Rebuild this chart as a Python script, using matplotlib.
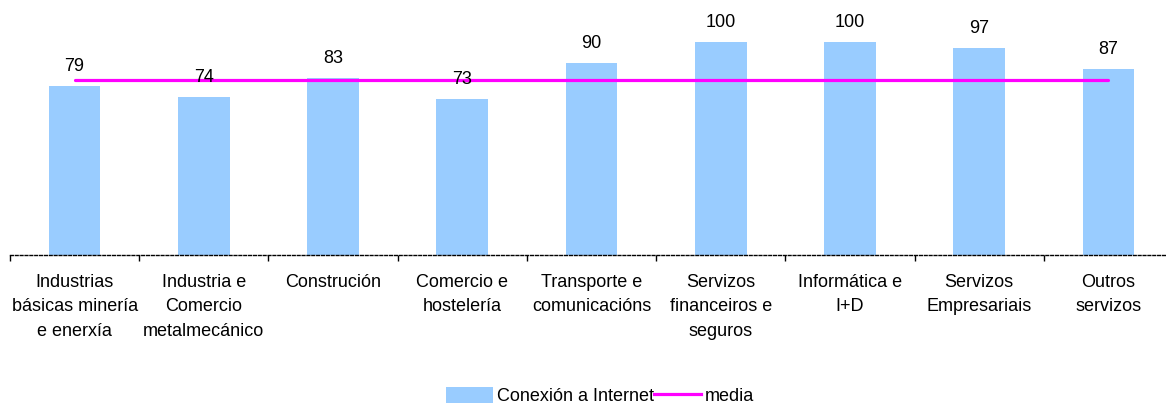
import numpy as np
import matplotlib
matplotlib.use("Agg")
import matplotlib.pyplot as plt
from matplotlib.lines import Line2D
from matplotlib.patches import Patch

plt.rcParams["font.family"] = ["Liberation Sans", "DejaVu Sans"]

categories = [
    "Industrias\nbásicas minería\ne enerxía",
    "Industria e\nComercio\nmetalmecánico",
    "Construción",
    "Comercio e\nhostelería",
    "Transporte e\ncomunicacións",
    "Servizos\nfinanceiros e\nseguros",
    "Informática e\nI+D",
    "Servizos\nEmpresariais",
    "Outros\nservizos",
]
internet = [79, 74, 83, 73, 90, 100, 100, 97, 87]
media = [82] * len(categories)

BAR_COLOR = "#99CCFF"
LINE_COLOR = "#FF00FF"
FS = 13

W, H = 1166, 405
fig = plt.figure(figsize=(W / 100, H / 100), dpi=100)
ax = fig.add_axes([10 / W, (H - 254.5) / H, 1163 / W, 254.5 / H])

x = np.arange(len(categories))
ax.bar(x, internet, width=0.4, color=BAR_COLOR, zorder=2)
ax.plot(x, media, color=LINE_COLOR, lw=2.3, zorder=3, solid_capstyle="round")

for xi, v in zip(x, internet):
    ax.annotate(str(v), (xi, v), xytext=(0, 8), textcoords="offset points",
                ha="center", va="bottom", fontsize=FS, zorder=4)

ax.set_xlim(-0.5, len(categories) - 0.5)
ax.set_ylim(0, 119.6)

for side in ("top", "right", "left"):
    ax.spines[side].set_visible(False)
ax.spines["bottom"].set_linestyle((0, (2, 1.5)))
ax.spines["bottom"].set_linewidth(1.0)
ax.set_yticks([])

ax.set_xticks(x)
ax.set_xticklabels(categories, fontsize=FS, linespacing=1.58)
ax.tick_params(axis="x", which="major", length=0, pad=14)
ax.set_xticks(np.arange(-0.5, len(categories)), minor=True)
ax.tick_params(axis="x", which="minor", length=4, width=1, direction="out")

handles = [
    Patch(facecolor=BAR_COLOR, edgecolor="none"),
    Line2D([0], [0], color=LINE_COLOR, lw=2.3),
]
fig.legend(handles, ["Conexión a Internet", "media"], loc="center",
           bbox_to_anchor=(600 / W, 1 - 396 / H), ncol=2, frameon=False,
           fontsize=FS, handlelength=2.6, handleheight=1.0,
           handletextpad=0.2, columnspacing=0.0, borderaxespad=0)

fig.savefig("out.png", dpi=100)
